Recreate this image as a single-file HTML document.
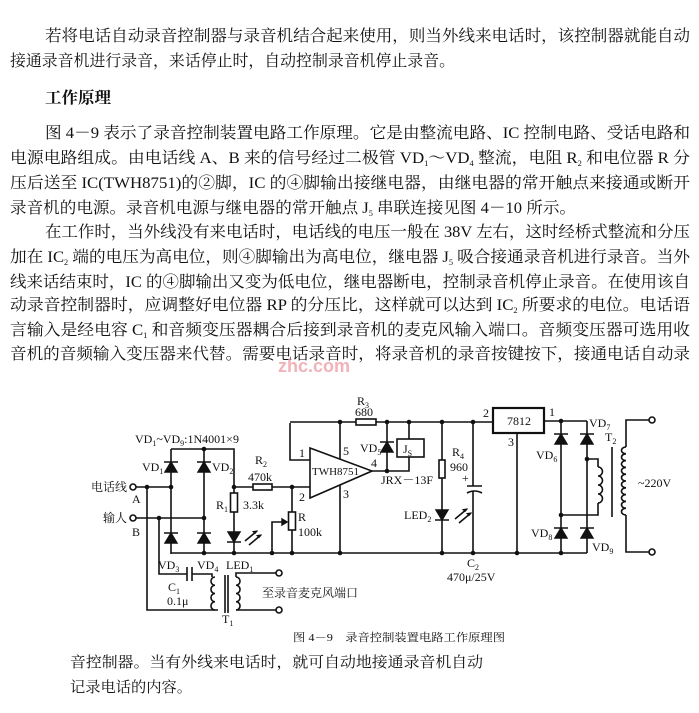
<!DOCTYPE html>
<html><head><meta charset="utf-8"><style>
html,body{margin:0;padding:0;background:#fff;}
svg{display:block}
.t{font-family:"Liberation Serif","Noto Serif CJK SC",serif;font-size:16px;fill:#111}
.l{font-family:"Liberation Serif","Noto Serif CJK SC",serif;font-size:12px;fill:#111}
.s{font-size:8px}
</style></head><body>
<svg width="699" height="713" viewBox="0 0 699 713" xmlns="http://www.w3.org/2000/svg">
<g class="t">
<text x="45" y="41" textLength="645" lengthAdjust="spacingAndGlyphs">若将电话自动录音控制器与录音机结合起来使用，则当外线来电话时，该控制器就能自动</text>
<text x="10" y="66" textLength="445" lengthAdjust="spacingAndGlyphs">接通录音机进行录音，来话停止时，自动控制录音机停止录音。</text>
<text x="45" y="103" font-weight="bold" textLength="66" lengthAdjust="spacingAndGlyphs">工作原理</text>
<text x="45" y="138" textLength="645" lengthAdjust="spacingAndGlyphs">图 4－9 表示了录音控制装置电路工作原理。它是由整流电路、IC 控制电路、受话电路和</text>
<text x="10" y="163" textLength="680" lengthAdjust="spacingAndGlyphs">电源电路组成。由电话线 A、B 来的信号经过二极管 VD<tspan class="s" dy="3">1</tspan><tspan dy="-3">～VD</tspan><tspan class="s" dy="3">4</tspan><tspan dy="-3"> 整流，电阻 R</tspan><tspan class="s" dy="3">2</tspan><tspan dy="-3"> 和电位器 R 分</tspan></text>
<text x="10" y="188" textLength="680" lengthAdjust="spacingAndGlyphs">压后送至 IC(TWH8751)的②脚，IC 的④脚输出接继电器，由继电器的常开触点来接通或断开</text>
<text x="10" y="213" textLength="566" lengthAdjust="spacingAndGlyphs">录音机的电源。录音机电源与继电器的常开触点 J<tspan class="s" dy="3">5</tspan><tspan dy="-3"> 串联连接见图 4－10 所示。</tspan></text>
<text x="45" y="237" textLength="645" lengthAdjust="spacingAndGlyphs">在工作时，当外线没有来电话时，电话线的电压一般在 38V 左右，这时经桥式整流和分压</text>
<text x="10" y="262" textLength="680" lengthAdjust="spacingAndGlyphs">加在 IC<tspan class="s" dy="3">2</tspan><tspan dy="-3"> 端的电压为高电位，则④脚输出为高电位，继电器 J</tspan><tspan class="s" dy="3">5</tspan><tspan dy="-3"> 吸合接通录音机进行录音。当外</tspan></text>
<text x="10" y="287" textLength="680" lengthAdjust="spacingAndGlyphs">线来话结束时，IC 的④脚输出又变为低电位，继电器断电，控制录音机停止录音。在使用该自</text>
<text x="10" y="310" textLength="680" lengthAdjust="spacingAndGlyphs">动录音控制器时，应调整好电位器 RP 的分压比，这样就可以达到 IC<tspan class="s" dy="3">2</tspan><tspan dy="-3"> 所要求的电位。电话语</tspan></text>
<text x="10" y="335" textLength="680" lengthAdjust="spacingAndGlyphs">言输入是经电容 C<tspan class="s" dy="3">1</tspan><tspan dy="-3"> 和音频变压器耦合后接到录音机的麦克风输入端口。音频变压器可选用收</tspan></text>
<text x="10" y="359" textLength="680" lengthAdjust="spacingAndGlyphs">音机的音频输入变压器来代替。需要电话录音时，将录音机的录音按键按下，接通电话自动录</text>
</g>
<text x="278" y="372" font-family="Liberation Sans,sans-serif" font-size="18" font-weight="bold" fill="#f0a0a8" opacity="0.8">zhc.com</text>

<g fill="none" stroke="#111" stroke-width="1.6">
<!-- inputs -->
<path d="M136 487H171M136 518H204"/>
<path d="M171 449V554M204 449V554M171 449H234V554M171 553H587"/>
<!-- R1 / LED1 -->
<path d="M245 541L257 531M249 545L261 535"/>
<!-- R2 line -->
<path d="M234 487H310M292 487V553"/>
<path d="M272 553V522H287"/>
<!-- C1 / T1 -->
<path d="M159 518V574H187M192 574H212V577M218 610H147V487"/>
<path d="M187 567V581M192 567V581"/>
<path d="M215 577a4 4.1 0 0 0 0 8.25a4 4.1 0 0 0 0 8.25a4 4.1 0 0 0 0 8.25a4 4.1 0 0 0 0 8.25"/>
<path d="M225 575V613M228 575V613"/>
<path d="M236 577a4 4.1 0 0 1 0 8.25a4 4.1 0 0 1 0 8.25a4 4.1 0 0 1 0 8.25a4 4.1 0 0 1 0 8.25"/>
<path d="M236 577V573H276M236 610H276"/>
<!-- top rail -->
<path d="M290 423V460H310M290 422H492"/>
<path d="M340 422V459M340 485V553M372 471H409V457M387 422V471M409 422V439"/>
<path d="M442 422V553M473 422V486M473 491V553"/>
<path d="M455 519L467 509M459 523L471 513"/>
<path d="M467 486H482M467 493Q474.5 489 482 493"/>
<path d="M544 421H587M517 433V553M561 421V553M587 421V553"/>
<path d="M587 459H598V467M598 503V515H561"/>
<path d="M598 467a4.5 4.5 0 0 1 0 9a4.5 4.5 0 0 1 0 9a4.5 4.5 0 0 1 0 9a4.5 4.5 0 0 1 0 9"/>
<path d="M612 447V517"/>
<path d="M649 420H626V447M626 515V552H649"/>
<path d="M626 447a4.5 3.4 0 0 0 0 6.8a4.5 3.4 0 0 0 0 6.8a4.5 3.4 0 0 0 0 6.8a4.5 3.4 0 0 0 0 6.8a4.5 3.4 0 0 0 0 6.8a4.5 3.4 0 0 0 0 6.8a4.5 3.4 0 0 0 0 6.8a4.5 3.4 0 0 0 0 6.8a4.5 3.4 0 0 0 0 6.8a4.5 3.4 0 0 0 0 6.8"/>
</g>
<!-- components with white fill -->
<g fill="#fff" stroke="#111" stroke-width="1.6">
<rect x="230.5" y="493" width="7" height="19"/>
<rect x="253" y="484" width="19" height="6"/>
<rect x="288.5" y="512" width="7" height="18"/>
<rect x="356" y="419" width="20" height="6"/>
<rect x="439" y="460" width="6" height="18"/>
<rect x="397" y="439" width="27" height="18"/>
<rect x="493" y="408" width="51" height="25" stroke-width="2.2"/>
<path d="M310 448L372 471L310 498Z"/>
<circle cx="133" cy="487" r="3"/><circle cx="133" cy="518" r="3"/>
<circle cx="279" cy="573" r="3"/><circle cx="279" cy="610" r="3"/>
<circle cx="652" cy="420" r="3"/><circle cx="652" cy="552" r="3"/>
</g>
<g fill="#111" stroke="#111" stroke-width="1.4">
<!-- up diodes: triangle apex up, bar on top -->
<path d="M165 472H177L171 462ZM164 462H178"/>
<path d="M198 472H210L204 462ZM197 462H211"/>
<path d="M165 543H177L171 533ZM164 533H178"/>
<path d="M198 543H210L204 533ZM197 533H211"/>
<path d="M381 452H393L387 442ZM380 442H394"/>
<path d="M555 444H567L561 434ZM554 434H568"/>
<path d="M581 444H593L587 434ZM580 434H594"/>
<path d="M555 538H567L561 528ZM554 528H568"/>
<path d="M581 538H593L587 528ZM580 528H594"/>
<!-- down diodes (LED) -->
<path d="M228 532H240L234 542ZM227 542H241"/>
<path d="M436 510H448L442 520ZM435 520H449"/>
<path d="M287 522l-5 -3v6z"/>
<path d="M257 531l-4 0.5l2 2zM261 535l-4 0.5l2 2z" stroke-width="1"/>
<path d="M467 509l-4 0.5l2 2zM471 513l-4 0.5l2 2z" stroke-width="1"/>
</g>
<g fill="#111">
<circle cx="147" cy="487" r="2.3"/><circle cx="159" cy="518" r="2.3"/><circle cx="204" cy="518" r="2.3"/>
<circle cx="204" cy="449" r="2.3"/><circle cx="171" cy="487" r="2.3"/><circle cx="234" cy="487" r="2.3"/>
<circle cx="234" cy="553" r="2.3"/><circle cx="204" cy="553" r="2.3"/><circle cx="272" cy="553" r="2.3"/>
<circle cx="292" cy="553" r="2.3"/><circle cx="292" cy="487" r="2.3"/><circle cx="340" cy="553" r="2.3"/>
<circle cx="442" cy="553" r="2.3"/><circle cx="473" cy="553" r="2.3"/><circle cx="517" cy="553" r="2.3"/>
<circle cx="561" cy="553" r="2.3"/><circle cx="340" cy="422" r="2.3"/><circle cx="387" cy="422" r="2.3"/>
<circle cx="409" cy="422" r="2.3"/><circle cx="442" cy="422" r="2.3"/><circle cx="473" cy="422" r="2.3"/>
<circle cx="387" cy="471" r="2.3"/><circle cx="561" cy="421" r="2.3"/><circle cx="587" cy="459" r="2.3"/>
<circle cx="561" cy="515" r="2.3"/>
</g>
<g class="l">
<text x="135" y="443">VD<tspan class="s" dy="3">1</tspan><tspan dy="-3">~VD</tspan><tspan class="s" dy="3">9</tspan><tspan dy="-3">:1N4001×9</tspan></text>
<text x="142" y="471">VD<tspan class="s" dy="3">1</tspan></text>
<text x="212" y="471">VD<tspan class="s" dy="3">2</tspan></text>
<text x="91" y="491">电话线</text>
<text x="132" y="503">A</text>
<text x="103" y="522">输人</text>
<text x="132" y="536">B</text>
<text x="216" y="509">R<tspan class="s" dy="3">1</tspan></text>
<text x="243" y="509">3.3k</text>
<text x="255" y="464">R<tspan class="s" dy="3">2</tspan></text>
<text x="248" y="481">470k</text>
<text x="158" y="569">VD<tspan class="s" dy="3">3</tspan></text>
<text x="197" y="569">VD<tspan class="s" dy="3">4</tspan></text>
<text x="226" y="569">LED<tspan class="s" dy="3">1</tspan></text>
<text x="168" y="591">C<tspan class="s" dy="3">1</tspan></text>
<text x="167" y="605">0.1μ</text>
<text x="222" y="623">T<tspan class="s" dy="3">1</tspan></text>
<text x="262" y="597" font-size="12">至录音麦克风端口</text>
<text x="299" y="457">1</text>
<text x="299" y="501">2</text>
<text x="298" y="521">R</text>
<text x="298" y="536">100k</text>
<text x="357" y="405">R<tspan class="s" dy="3">3</tspan></text>
<text x="355" y="416">680</text>
<text x="343" y="455">5</text>
<text x="371" y="467">4</text>
<text x="343" y="498">3</text>
<text x="312" y="475" font-size="11">TWH8751</text>
<text x="360" y="452">VD<tspan class="s" dy="3">5</tspan></text>
<text x="403" y="453">J<tspan class="s" dy="3">S</tspan></text>
<text x="381" y="484">JRX－13F</text>
<text x="452" y="456">R<tspan class="s" dy="3">4</tspan></text>
<text x="450" y="471">960</text>
<text x="404" y="519">LED<tspan class="s" dy="3">2</tspan></text>
<text x="462" y="482">+</text>
<text x="467" y="567">C<tspan class="s" dy="3">2</tspan></text>
<text x="447" y="581">470μ/25V</text>
<text x="483" y="417">2</text>
<text x="507" y="425">7812</text>
<text x="549" y="416">1</text>
<text x="508" y="446">3</text>
<text x="589" y="427">VD<tspan class="s" dy="3">7</tspan></text>
<text x="605" y="441">T<tspan class="s" dy="3">2</tspan></text>
<text x="536" y="459">VD<tspan class="s" dy="3">6</tspan></text>
<text x="531" y="537">VD<tspan class="s" dy="3">8</tspan></text>
<text x="592" y="551">VD<tspan class="s" dy="3">9</tspan></text>
<text x="638" y="487">~220V</text>
<text x="293" y="641" font-size="11" textLength="212" lengthAdjust="spacingAndGlyphs">图 4－9　录音控制装置电路工作原理图</text>
</g>
<g class="t" style="font-size:15px">
<text x="70" y="667" textLength="413" lengthAdjust="spacingAndGlyphs">音控制器。当有外线来电话时，就可自动地接通录音机自动</text>
<text x="70" y="692" textLength="122" lengthAdjust="spacingAndGlyphs">记录电话的内容。</text>
</g>
</svg>
</body></html>
